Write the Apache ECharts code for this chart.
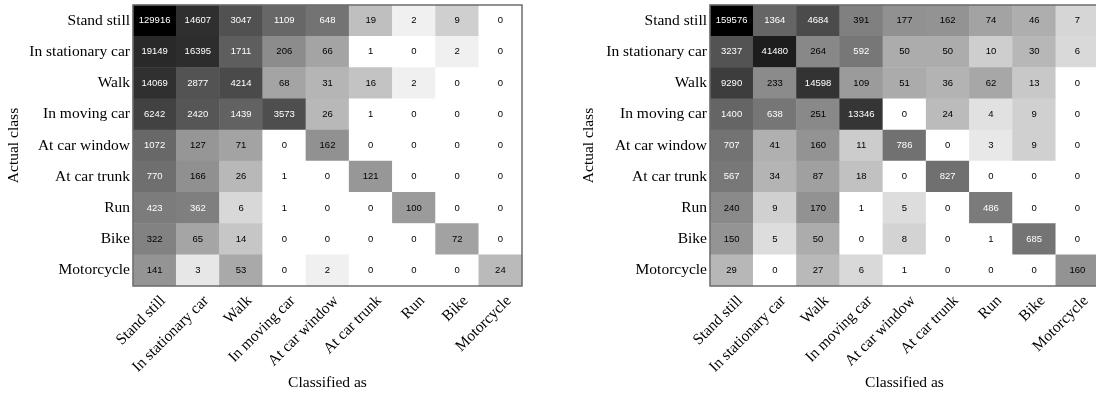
<!DOCTYPE html>
<html>
<head>
<meta charset="utf-8">
<script src="https://cdn.jsdelivr.net/npm/echarts@6/dist/echarts.min.js"></script>
<style>
  html, body { margin: 0; padding: 0; background: #ffffff; }
  #chart { width: 1096px; height: 397px; }
</style>
</head>
<body>
<div id="chart"></div>
<script>
// Activity classes, used for both rows (actual) and columns (classified as)
const classes = ['Stand still', 'In stationary car', 'Walk', 'In moving car',
  'At car window', 'At car trunk', 'Run', 'Bike', 'Motorcycle'];

// Confusion counts, first classifier (row = actual class)
const countsA_standStill   = [129916, 14607, 3047, 1109, 648, 19, 2, 9, 0];
const countsA_statCar      = [19149, 16395, 1711, 206, 66, 1, 0, 2, 0];
const countsA_walk         = [14069, 2877, 4214, 68, 31, 16, 2, 0, 0];
const countsA_movingCar    = [6242, 2420, 1439, 3573, 26, 1, 0, 0, 0];
const countsA_carWindow    = [1072, 127, 71, 0, 162, 0, 0, 0, 0];
const countsA_carTrunk     = [770, 166, 26, 1, 0, 121, 0, 0, 0];
const countsA_run          = [423, 362, 6, 1, 0, 0, 100, 0, 0];
const countsA_bike         = [322, 65, 14, 0, 0, 0, 0, 72, 0];
const countsA_motorcycle   = [141, 3, 53, 0, 2, 0, 0, 0, 24];

// Confusion counts, second classifier (row = actual class)
const countsB_standStill   = [159576, 1364, 4684, 391, 177, 162, 74, 46, 7];
const countsB_statCar      = [3237, 41480, 264, 592, 50, 50, 10, 30, 6];
const countsB_walk         = [9290, 233, 14598, 109, 51, 36, 62, 13, 0];
const countsB_movingCar    = [1400, 638, 251, 13346, 0, 24, 4, 9, 0];
const countsB_carWindow    = [707, 41, 160, 11, 786, 0, 3, 9, 0];
const countsB_carTrunk     = [567, 34, 87, 18, 0, 827, 0, 0, 0];
const countsB_run          = [240, 9, 170, 1, 5, 0, 486, 0, 0];
const countsB_bike         = [150, 5, 50, 0, 8, 0, 1, 685, 0];
const countsB_motorcycle   = [29, 0, 27, 6, 1, 0, 0, 0, 160];

const matrixA = [countsA_standStill, countsA_statCar, countsA_walk, countsA_movingCar,
  countsA_carWindow, countsA_carTrunk, countsA_run, countsA_bike, countsA_motorcycle];
const matrixB = [countsB_standStill, countsB_statCar, countsB_walk, countsB_movingCar,
  countsB_carWindow, countsB_carTrunk, countsB_run, countsB_bike, countsB_motorcycle];

const serif = '"Liberation Serif", "DejaVu Serif", serif';
const sans = '"Liberation Sans", Arial, sans-serif';
const labelSize = 15.5;

// Build heatmap items: [col, row, count, log10(count)]; shade on a log scale
function buildCells(matrix) {
  let maxLog = 0;
  matrix.forEach(r => r.forEach(v => { if (v > 0) maxLog = Math.max(maxLog, Math.log10(v)); }));
  const items = [];
  matrix.forEach((row, ri) => {
    row.forEach((v, ci) => {
      const lv = v > 0 ? Math.log10(v) : 0;
      items.push({
        value: [ci, ri, v, lv],
        label: { color: lv / maxLog > 0.5 ? '#ffffff' : '#000000' }
      });
    });
  });
  return { items, maxLog };
}

const cellsA = buildCells(matrixA);
const cellsB = buildCells(matrixB);

const grids = [
  { left: 133, top: 5, width: 389, height: 281 },
  { left: 710, top: 5, width: 389, height: 281 }
];

function xAxisFor(i) {
  return {
    type: 'category', gridIndex: i, data: classes,
    name: 'Classified as', nameLocation: 'middle', nameGap: 89, nameMoveOverlap: false,
    nameTextStyle: { fontFamily: serif, fontSize: labelSize, color: '#000' },
    axisLine: { show: false }, axisTick: { show: false },
    splitLine: { show: false },
    axisLabel: {
      rotate: 45, margin: 4, verticalAlign: 'top', padding: [4, 0, 0, 0],
      fontFamily: serif, fontSize: labelSize, color: '#000', interval: 0
    }
  };
}
function yAxisFor(i, gap) {
  return {
    type: 'category', gridIndex: i, data: classes, inverse: true,
    name: 'Actual class', nameLocation: 'middle', nameGap: gap, nameRotate: 90, nameMoveOverlap: false,
    nameTextStyle: { fontFamily: serif, fontSize: labelSize, color: '#000' },
    axisLine: { show: false }, axisTick: { show: false },
    splitLine: { show: false },
    axisLabel: { margin: 3, fontFamily: serif, fontSize: labelSize, color: '#000', interval: 0 }
  };
}

function heatSeries(i, cells) {
  return {
    type: 'heatmap', xAxisIndex: i, yAxisIndex: i,
    data: cells.items,
    encode: { x: 0, y: 1, value: 2 },
    label: {
      show: true, fontFamily: sans, fontSize: 9.5,
      formatter: p => String(p.value[2])
    },
    itemStyle: { borderWidth: 0 },
    emphasis: { disabled: true }
  };
}

const chart = echarts.init(document.getElementById('chart'), null, { renderer: 'canvas' });
chart.setOption({
  backgroundColor: '#ffffff',
  animation: false,
  grid: grids.map(g => Object.assign({
    show: true, borderColor: '#6e6e6e', borderWidth: 1.5, backgroundColor: 'transparent',
    z: 10, containLabel: false, outerBoundsMode: 'none'
  }, g)),
  xAxis: [xAxisFor(0), xAxisFor(1)],
  yAxis: [yAxisFor(0, 111), yAxisFor(1, 113)],
  visualMap: [
    { show: false, seriesIndex: 0, dimension: 3, min: 0, max: cellsA.maxLog, inRange: { color: ['#ffffff', '#000000'] } },
    { show: false, seriesIndex: 1, dimension: 3, min: 0, max: cellsB.maxLog, inRange: { color: ['#ffffff', '#000000'] } }
  ],
  series: [heatSeries(0, cellsA), heatSeries(1, cellsB)]
});
</script>
</body>
</html>
